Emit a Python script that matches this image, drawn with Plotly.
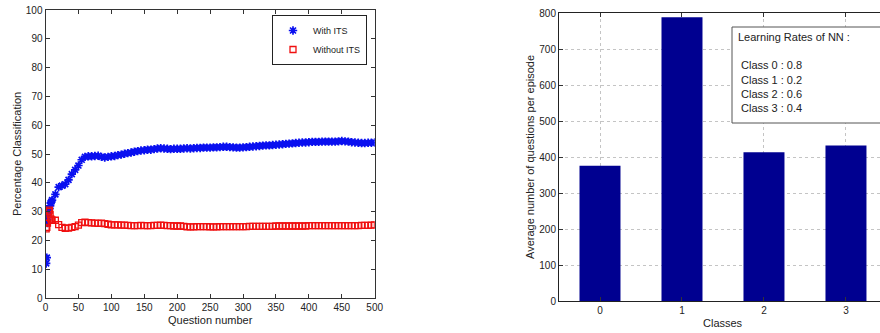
import plotly.graph_objects as go

# ---------------- data ----------------
question_early = [1, 2, 3, 4, 5, 6, 7, 8, 9, 10]
question_late = list(range(15, 501, 5))
question_number = question_early + question_late

with_its = [
    12, 14, 26, 28, 30, 31, 32, 33, 33.5, 34,
    36, 38.5, 39, 39.5, 41, 43, 44.5, 46, 48, 49,
    49.2, 49.2, 49.3, 49.4, 49, 48.8, 49, 49.2, 49.3, 49.6,
    49.8, 50.1, 50.3, 50.5, 50.8, 51, 51.2, 51.3, 51.5, 51.5,
    51.7, 51.9, 52, 51.9, 51.8, 51.7, 51.8, 51.8, 51.8, 51.9,
    52, 51.9, 52, 52.1, 52.1, 52.2, 52.2, 52.2, 52.3, 52.3,
    52.4, 52.5, 52.5, 52.4, 52.3, 52.2, 52.2, 52.3, 52.4, 52.5,
    52.6, 52.7, 52.8, 52.9, 53, 53, 53.1, 53.2, 53.3, 53.4,
    53.5, 53.6, 53.7, 53.8, 53.9, 54, 54, 54.1, 54.2, 54.2,
    54.2, 54.3, 54.3, 54.3, 54.3, 54.3, 54.4, 54.5, 54.4, 54.3,
    54.1, 54, 53.9, 53.8, 53.8, 53.9, 53.9, 54,
]

without_its = [
    24, 24.5, 26, 28, 30, 30.5, 29, 27.5, 27, 27,
    27, 25.5, 24.5, 24.2, 24.3, 24.5, 24.8, 25.3, 26.2, 26.3,
    26.2, 26.1, 26, 25.9, 26, 25.8, 25.6, 25.4, 25.4, 25.4,
    25.3, 25.3, 25.2, 25.1, 25.1, 25.1, 25.2, 25.1, 25.1, 25.1,
    25.2, 25.2, 25.3, 25.2, 25.1, 25.1, 25, 25, 25, 24.9,
    24.7, 24.7, 24.7, 24.8, 24.8, 24.8, 24.8, 24.7, 24.7, 24.7,
    24.8, 24.8, 24.8, 24.8, 24.8, 24.8, 24.8, 24.8, 24.8, 24.9,
    24.9, 24.9, 24.9, 24.9, 24.9, 24.9, 24.9, 25, 25, 25,
    25, 25, 25, 25, 25, 25, 25, 25.1, 25.1, 25.1,
    25.1, 25.1, 25.1, 25.1, 25.1, 25.1, 25.1, 25.1, 25.1, 25.1,
    25.1, 25.1, 25.1, 25.2, 25.2, 25.2, 25.3, 25.4,
]

classes = [0, 1, 2, 3]
avg_questions = [376, 788, 413, 432]
learning_rates = ["0.8", "0.2", "0.6", "0.4"]

# ---------------- figure ----------------
FONT = "Liberation Sans, Arial, sans-serif"
W, H = 880, 333
TXT = "#222222"

fig = go.Figure()

fig.add_trace(go.Scatter(
    x=question_number, y=with_its, mode="markers", name="With ITS",
    marker=dict(symbol="asterisk-open", size=7, color="#0a10f0",
                line=dict(color="#0a10f0", width=1.7)),
    xaxis="x", yaxis="y",
))
fig.add_trace(go.Scatter(
    x=question_number, y=without_its, mode="markers", name="Without ITS",
    marker=dict(symbol="square-open", size=6, color="#f01010",
                line=dict(color="#f01010", width=1.3)),
    xaxis="x", yaxis="y",
))

fig.add_trace(go.Bar(
    x=classes, y=avg_questions, width=0.5, marker=dict(color="#000090", line=dict(width=0)),
    showlegend=False, xaxis="x2", yaxis="y2",
))

tickfont = dict(family=FONT, size=10, color=TXT)
ax_common = dict(showline=True, linecolor="#333333", linewidth=1, mirror="ticks",
                 ticks="inside", ticklen=4, tickcolor="#333333", zeroline=False,
                 tickfont=tickfont, automargin=False)

fig.update_layout(
    width=W, height=H,
    margin=dict(l=0, r=0, t=0, b=0, pad=0, autoexpand=False),
    paper_bgcolor="white", plot_bgcolor="white",
    font=dict(family=FONT, color=TXT),
    xaxis=dict(domain=[45.5 / W, 374.7 / W], range=[0, 500], tickvals=list(range(0, 501, 50)),
               showgrid=False, anchor="y", **ax_common),
    yaxis=dict(domain=[(H - 298) / H, (H - 10) / H], range=[0, 100], tickvals=list(range(0, 101, 10)),
               showgrid=False, anchor="x", **ax_common),
    xaxis2=dict(domain=[559 / W, 1.0], range=[-0.5, 3.415], tickvals=classes,
                showgrid=True, gridcolor="#c4c4c4", griddash="dot", gridwidth=1,
                anchor="y2", showline=True, linecolor="#222222", linewidth=1, mirror="ticks",
                ticks="inside", ticklen=4, tickcolor="#333333", zeroline=False,
                tickfont=tickfont, automargin=False),
    yaxis2=dict(domain=[(H - 301) / H, (H - 13) / H], range=[0, 800], tickvals=list(range(0, 801, 100)),
                showgrid=True, gridcolor="#c4c4c4", griddash="dot", gridwidth=1,
                anchor="x2", showline=True, linecolor="#222222", linewidth=1, mirror=False,
                ticks="inside", ticklen=4, tickcolor="#333333", zeroline=False,
                tickfont=tickfont, automargin=False),
    legend=dict(x=367 / W, xanchor="right", y=(H - 15) / H, yanchor="top",
                bordercolor="#222222", borderwidth=1, bgcolor="white",
                font=dict(family=FONT, size=9, color=TXT),
                tracegroupgap=0, itemwidth=30),
    showlegend=True,
)

def ann(text, x, y, angle=0, xanchor="center", size=11):
    return dict(text=text, x=x / W, y=(H - y) / H, xref="paper", yref="paper",
                textangle=angle, showarrow=False, xanchor=xanchor, yanchor="middle",
                font=dict(size=size, family=FONT, color=TXT))

annotations = [
    ann("Percentage Classification", 17, 154, angle=-90),
    ann("Question number", 210, 320),
    ann("Average number of questions per episode", 530, 157, angle=-90),
    ann("Classes", 723, 323),
    ann("Learning Rates of NN :", 736, 37, xanchor="left"),
]
for i, (c, lr) in enumerate(zip(classes, learning_rates)):
    annotations.append(ann(f"Class {c} : {lr}", 739, 65.5 + 14.2 * i, xanchor="left"))
fig.update_layout(annotations=annotations)

fig.add_shape(type="rect", xref="paper", yref="paper",
              x0=732 / W, x1=1.1, y0=(H - 123) / H, y1=(H - 27) / H,
              line=dict(color="#555555", width=1), fillcolor="white", layer="above")

fig.write_html(
    "out.html",
    config={"displayModeBar": False},
    post_script="document.body.style.margin='0';document.body.style.padding='0';"
                "document.documentElement.style.overflow='hidden';",
)
